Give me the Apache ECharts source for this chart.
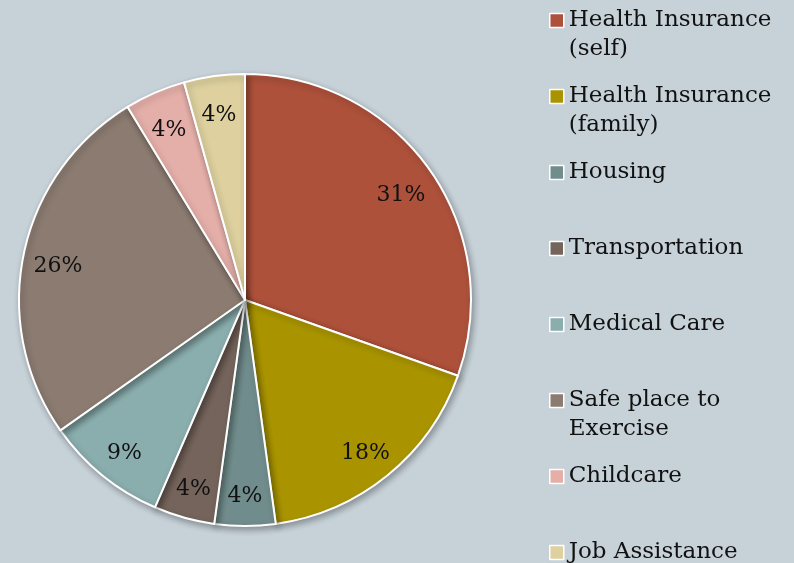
<!DOCTYPE html>
<html>
<head>
<meta charset="utf-8">
<script src="https://cdn.jsdelivr.net/npm/echarts@6/dist/echarts.min.js"></script>
<style>
html,body{margin:0;padding:0;background:#c6d1d8;}
#chart{width:794px;height:563px;}
</style>
</head>
<body>
<div id="chart"></div>
<script>
// Data (counts; labels are their percentages)
var categories = ['Health Insurance (self)', 'Health Insurance (family)', 'Housing', 'Transportation', 'Medical Care', 'Safe place to Exercise', 'Childcare', 'Job Assistance'];
var legendLabels = ['Health Insurance\n(self)', 'Health Insurance\n(family)', 'Housing', 'Transportation', 'Medical Care', 'Safe place to\nExercise', 'Childcare', 'Job Assistance'];
var values = [7, 4, 1, 1, 2, 6, 1, 1];
var colors = ['#ad513b', '#a99400', '#718c8c', '#74645b', '#8aadad', '#8b7b71', '#e5afa9', '#ded19f'];

var FONT = 'DejaVu Serif';
var data = categories.map(function (c, i) { return { name: c, value: values[i] }; });

var legendFirst = 19.5, legendStep = 76;
var legends = categories.map(function (c, i) {
  var twoLine = legendLabels[i].indexOf('\n') >= 0;
  var yc = legendFirst + i * legendStep;
  return {
    orient: 'vertical',
    left: 549,
    top: yc - (twoLine ? 42.5 : 13.5),
    padding: 0,
    itemWidth: 14,
    itemHeight: 14,
    itemGap: 0,
    icon: 'rect',
    itemStyle: { borderColor: '#ffffff', borderWidth: 1.5 },
    data: [c],
    formatter: function () { return twoLine ? ' \n' + legendLabels[i] : legendLabels[i]; },
    textStyle: {
      fontFamily: FONT,
      fontSize: 23,
      lineHeight: 29,
      color: '#111111'
    }
  };
});

var chart = echarts.init(document.getElementById('chart'), null, { renderer: 'canvas' });
chart.setOption({
  backgroundColor: '#c6d1d8',
  animation: false,
  color: colors,
  legend: legends,
  series: [
    {
      type: 'pie',
      center: [245, 300],
      radius: [0, 226],
      startAngle: 90,
      clockwise: true,
      avoidLabelOverlap: false,
      label: { show: false },
      labelLine: { show: false },
      itemStyle: {
        borderColor: '#ffffff',
        borderWidth: 2,
        shadowBlur: 6,
        shadowOffsetX: 2,
        shadowOffsetY: 3,
        shadowColor: 'rgba(0,0,0,0.3)'
      },
      emphasis: { disabled: true },
      data: data
    },
    {
      type: 'pie',
      center: [245, 300],
      radius: [150, 226],
      startAngle: 90,
      clockwise: true,
      silent: true,
      avoidLabelOverlap: false,
      percentPrecision: 0,
      itemStyle: { color: 'rgba(0,0,0,0)', borderWidth: 0 },
      label: {
        show: true,
        position: 'inside',
        formatter: '{d}%',
        offset: [0, 5],
        fontFamily: FONT,
        fontSize: 22,
        color: '#111111'
      },
      labelLine: { show: false },
      emphasis: { disabled: true },
      data: data
    }
  ]
});
</script>
</body>
</html>
